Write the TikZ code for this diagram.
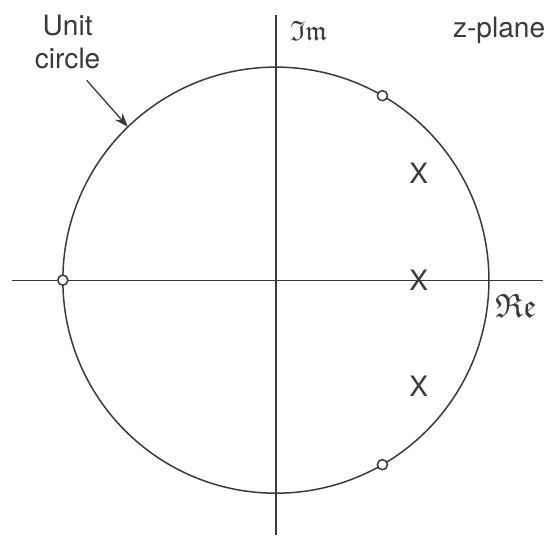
\documentclass[tikz,border=0pt]{standalone}
\usepackage{fontspec}
\setmainfont{TeX Gyre Heros}
\usepackage{amssymb}
\usetikzlibrary{arrows.meta,positioning,calc}
\definecolor{pzInk}{HTML}{3a3a3a}
\tikzset{
  >={Stealth[length=2.6mm,width=1.9mm]},
  axis/.style={draw=pzInk, line width=0.7pt},
  ucirc/.style={draw=pzInk, line width=0.8pt},
  zero/.style={circle, draw=pzInk, fill=white, line width=0.8pt,
              minimum size=1.9mm, inner sep=0pt},
  pole/.style={font=\fontsize{15}{18}\selectfont, text=pzInk, inner sep=0pt},
  lbl/.style={font=\fontsize{15}{18}\selectfont, text=pzInk, align=center, inner sep=0pt},
  flow/.style={->, draw=pzInk, line width=0.7pt},
}
\newcommand{\ucr}{4}

\begin{document}
\begin{tikzpicture}
        \useasboundingbox (-5.18,-4.86) rectangle (5.09,5.26);
        % axes
        \coordinate (xl) at (-4.96,0);
        \coordinate (xr) at (5.01,0);
        \coordinate (yb) at (0,-4.79);
        \coordinate (yt) at (0,4.98);
        \draw[axis] (xl) -- (xr);
        \draw[axis] (yb) -- (yt);
        % unit circle
        \draw[ucirc] (0,0) circle (\ucr);
        \coordinate (uc) at (134:\ucr);
        % zeros and poles
        \foreach \a/\n in {180/a,60/b,-60/c}{
          \node[zero] (z\n) at (\a:\ucr) {};}
        \foreach \y/\n in {2.0/a,0/b,-2.0/c}{
          \node[pole] (p\n) at (2.68,\y) {X};}
        % labels
        \node[lbl] (unit) at (-3.91,4.47) {Unit\\circle};
        \draw[flow] ($(unit.south)+(0.36,-0.2)$) -- (uc);
        \node[lbl,anchor=west] (im) at (0.26,4.68) {$\mathfrak{Im}$};
        \node[lbl,anchor=west] (zp) at (3.32,4.70) {z-plane};
        \node[lbl,anchor=west,font=\fontsize{18}{20}\selectfont] (re) at (4.11,-0.49) {$\mathfrak{Re}$};
      \end{tikzpicture}
\end{document}
